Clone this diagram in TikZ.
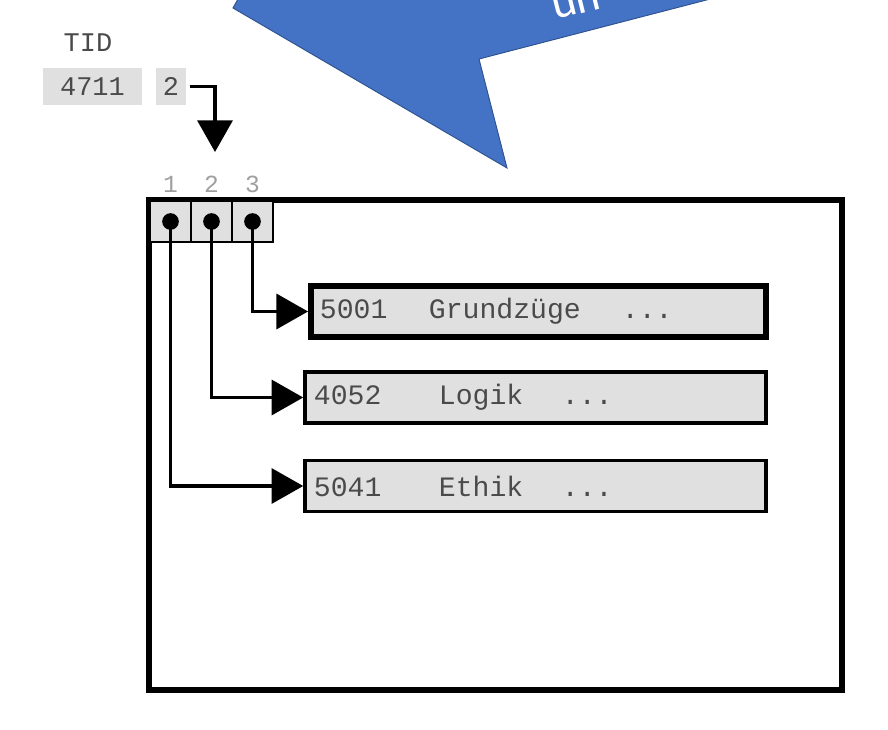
\documentclass[tikz,border=0pt]{standalone}
\usepackage{fontspec}
\setmonofont{Liberation Mono}
\newfontfamily\calloutfont{Carlito}
\usetikzlibrary{arrows.meta}
\definecolor{cellgray}{HTML}{E0E0E0}
\definecolor{inkgray}{HTML}{4A4A4A}
\definecolor{calloutblue}{HTML}{4472C4}
\definecolor{calloutedge}{HTML}{2F528F}

\tikzset{
  cell/.style={fill=cellgray, inner sep=0pt, minimum height=1.11cm,
    font=\ttfamily\fontsize{23}{23}\selectfont, text=inkgray},
  slot/.style={draw, fill=cellgray, line width=2.3pt, minimum width=1.23cm,
    minimum height=1.23cm, inner sep=0pt},
  dotmark/.style={circle, fill=black, inner sep=0pt, minimum size=0.5cm},
  slotnum/.style={font=\ttfamily\fontsize{21}{21}\selectfont, text=gray!75},
  record/.style={draw, fill=cellgray, line width=3pt, minimum height=1.53cm,
    inner xsep=0.27cm, align=left, font=\ttfamily\fontsize{24}{24}\selectfont,
    text=inkgray},
  pointer/.style={line width=3pt, -{Triangle[length=0.95cm, width=1.05cm]}},
}

\begin{document}
\begin{tikzpicture}[x=0.03cm, y=-0.03cm]
    \clip (0,0) rectangle (888,730);

    % callout, cut off at the top
    \filldraw[fill=calloutblue, draw=calloutedge, line width=0.8pt]
        (243,-10) -- (233,8) -- (507,168) -- (479,59) -- (745,-10) -- cycle;
    \node[text=white, font=\calloutfont\fontsize{40}{40}\selectfont,
        rotate=14, anchor=base west] (callout) at (551,21) {un};

    % TID
    \node[font=\ttfamily\fontsize{23}{23}\selectfont, text=inkgray] (tid) at (88,43) {TID};
    \node[cell, minimum width=2.97cm] (tidpage) at (92.5,86.5) {4711};
    \node[cell, minimum width=0.9cm] (tidslot) at (171,86.5) {2};
    \coordinate (slotsel) at (215,152);
    \draw[pointer, shorten <=0.1cm] (tidslot.east) -| (slotsel);

    % page
    \node[draw, line width=5pt, minimum width=20.79cm, minimum height=14.7cm]
        (page) at (495.5,445) {};
    \foreach \i/\x in {1/170.5, 2/211.5, 3/252.5} {
        \node[slot] (slot\i) at (\x,221.5) {};
        \node[dotmark] (dot\i) at (slot\i.center) {};
        \node[slotnum] (num\i) at (\x,184) {\i};
    }

    % records
    \node[record, line width=5pt, text width=13.11cm] (rec1) at (538.5,311.5)
        {\makebox[3.27cm][l]{5001}\makebox[5.79cm][l]{Grundzüge}...};
    \node[record, text width=13.29cm] (rec2) at (535.5,397.5)
        {\makebox[3.75cm][l]{4052}\makebox[3.69cm][l]{Logik}...};
    \node[record, text width=13.29cm] (rec3) at (535.5,486)
        {\makebox[3.75cm][l]{5041}\makebox[3.69cm][l]{Ethik}...};

    \draw[pointer] (dot3.center) |- (rec1.west);
    \draw[pointer] (dot2.center) |- (rec2.west);
    \draw[pointer] (dot1.center) |- (rec3.west);
\end{tikzpicture}
\end{document}
